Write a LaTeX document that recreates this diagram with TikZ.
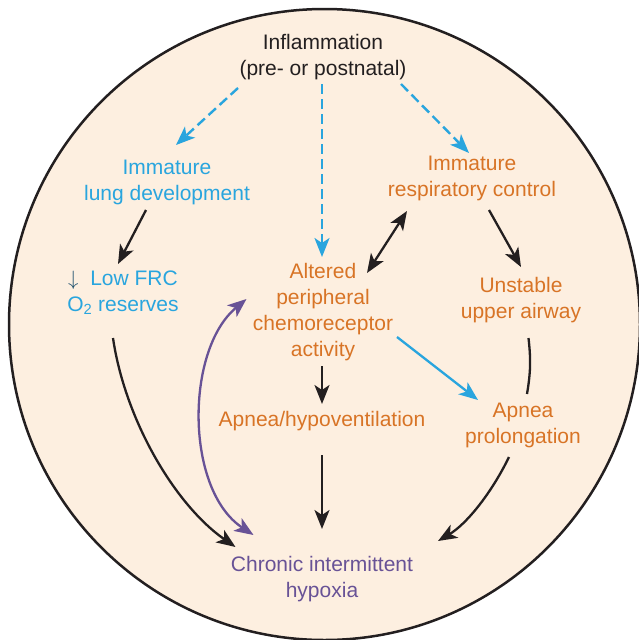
\documentclass[tikz,border=0pt]{standalone}
\usepackage{fontspec}
\setmainfont{Liberation Sans}
\usetikzlibrary{arrows.meta,calc}
\definecolor{peach}{RGB}{253,239,224}
\definecolor{skyblue}{RGB}{41,165,222}
\definecolor{rust}{RGB}{216,116,38}
\definecolor{violet}{RGB}{104,82,150}
\definecolor{ink}{RGB}{35,31,32}
\definecolor{darkarrow}{RGB}{30,80,110}
\tikzset{
  lbl/.style={align=center, inner sep=0pt, font=\fontsize{21}{26}\selectfont},
  head/.tip={Stealth[length=19pt,width=15pt,inset=5pt]},
  tip/.style={-head},
  tips/.style={head-head},
  link/.style={line width=2.3pt, draw=ink, tip},
  dashlink/.style={line width=2.4pt, draw=skyblue, tip, dash pattern=on 10pt off 5pt},
}
\begin{document}
\begin{tikzpicture}[x=1pt, y=-1pt]
\useasboundingbox (0,0) rectangle (639,640);
% background disc
\draw[line width=2.5pt, draw=ink, fill=peach] (324.5,324.5) circle (315.5);

% labels
\node[lbl, text=ink]    (infl)  at (323,57)  {Inflammation\\(pre- or postnatal)};
\node[lbl, text=skyblue] (lung) at (167,182) {Immature\\lung development};
\node[lbl, text=skyblue] (frc)  at (123,293) {{\color{darkarrow}$\downarrow$}\ \ Low FRC\\O\textsubscript{2} reserves};
\node[lbl, text=rust]   (resp)  at (472,178) {Immature\\respiratory control};
\node[lbl, text=rust]   (chemo) at (323,312) {Altered\\peripheral\\chemoreceptor\\activity};
\node[lbl, text=rust]   (unst)  at (521,300) {Unstable\\upper airway};
\node[lbl, text=rust]   (hypo)  at (322,421) {Apnea/hypoventilation};
\node[lbl, text=rust]   (prol)  at (523,425) {Apnea\\prolongation};
\node[lbl, text=violet] (cih)   at (322,579) {Chronic intermittent\\hypoxia};

% inflammation pathways
\draw[dashlink] ($(infl)+(-85,31)$) -- ($(lung)+(9,-37)$);
\draw[dashlink] ($(infl)+(-1,27)$) -- ($(chemo)+(-1,-55)$);
\draw[dashlink] ($(infl)+(78,27)$) -- ($(resp)+(-3,-25)$);

% direct links
\draw[link] ($(lung)+(-21,28)$) -- ($(frc)+(-5,-29)$);
\draw[link, tips] ($(resp)+(-65,33)$) -- ($(chemo)+(44,-39)$);
\draw[link] ($(resp)+(17,32)$) -- ($(unst)+(0,-33)$);
\draw[line width=2.3pt, draw=skyblue, tip] ($(chemo)+(74,25)$) -- ($(prol)+(-45,-25)$);
\draw[link] ($(chemo)+(-1,54)$) -- ($(hypo)+(0,-17)$);
\draw[line width=2.3pt, draw=ink] ($(unst)+(7.5,38)$) to[bend left=8] ($(prol)+(4,-31)$);
\draw[link] ($(hypo)+(0,34)$) -- ($(cih)+(0,-50)$);

% curved links into hypoxia
\draw[link] ($(prol)+(-14,32)$) .. controls ($(prol)+(-33,71)$) and ($(cih)+(143,-54)$) .. ($(cih)+(116,-38)$);
\draw[link] ($(frc)+(-10,45)$) .. controls ($(frc)+(2,127)$) and ($(cih)+(-147,-74)$) .. ($(cih)+(-86.5,-32)$);
\draw[line width=2.3pt, draw=violet, tips] ($(chemo)+(-76.5,-13)$) .. controls ($(chemo)+(-138,38)$) and ($(cih)+(-137,-89)$) .. ($(cih)+(-68.5,-44)$);
\end{tikzpicture}
\end{document}
